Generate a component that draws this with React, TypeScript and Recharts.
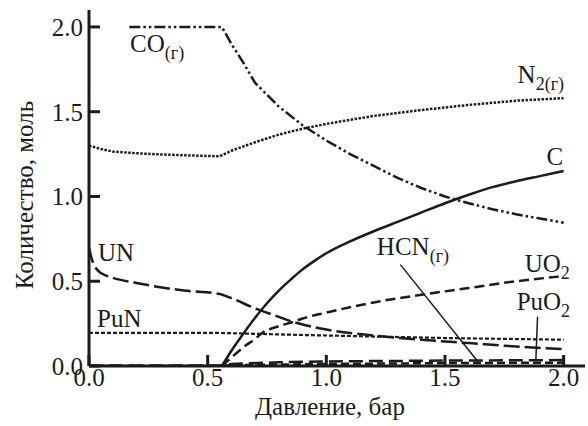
import React from "react";
import { LineChart, Line, XAxis, YAxis, ReferenceLine, ReferenceDot, Label } from "recharts";

// pressure (bar) and amount (mol)
const coX = [0.17, 0.56, 0.6, 0.65, 0.7, 0.8, 0.9, 1.0, 1.1, 1.2, 1.3, 1.4, 1.5, 1.6, 1.7, 1.8, 1.9, 2.0];
const coY = [2.0, 2.0, 1.9, 1.79, 1.67, 1.53, 1.42, 1.33, 1.25, 1.18, 1.11, 1.05, 1.0, 0.96, 0.925, 0.895, 0.87, 0.845];

const n2X = [0, 0.05, 0.1, 0.2, 0.3, 0.4, 0.55, 0.6, 0.7, 0.8, 0.9, 1.0, 1.1, 1.2, 1.4, 1.6, 1.8, 2.0];
const n2Y = [1.3, 1.28, 1.265, 1.255, 1.248, 1.243, 1.237, 1.27, 1.32, 1.365, 1.4, 1.428, 1.452, 1.475, 1.51, 1.54, 1.565, 1.58];

const cX = [0.56, 0.6, 0.65, 0.7, 0.75, 0.8, 0.85, 0.9, 0.95, 1.0, 1.1, 1.2, 1.3, 1.4, 1.5, 1.6, 1.7, 1.8, 1.9, 2.0];
const cY = [0, 0.09, 0.19, 0.285, 0.37, 0.445, 0.51, 0.57, 0.62, 0.665, 0.735, 0.795, 0.85, 0.905, 0.96, 1.01, 1.055, 1.09, 1.12, 1.15];

const unX = [0, 0.01, 0.02, 0.04, 0.07, 0.1, 0.2, 0.3, 0.4, 0.55, 0.6, 0.7, 0.8, 0.86, 0.9, 1.0, 1.2, 1.4, 1.6, 1.8, 2.0];
const unY = [0.7, 0.64, 0.6, 0.56, 0.535, 0.52, 0.49, 0.465, 0.445, 0.425, 0.4, 0.34, 0.29, 0.26, 0.245, 0.215, 0.18, 0.155, 0.135, 0.115, 0.1];

const punX = [0, 0.55, 0.7, 0.9, 1.0, 1.5, 2.0];
const punY = [0.195, 0.195, 0.19, 0.183, 0.18, 0.165, 0.155];

const uo2X = [0.56, 0.6, 0.65, 0.7, 0.73, 0.8, 0.86, 0.9, 1.0, 1.2, 1.4, 1.6, 1.8, 2.0];
const uo2Y = [0, 0.05, 0.11, 0.16, 0.195, 0.235, 0.26, 0.28, 0.315, 0.375, 0.42, 0.46, 0.5, 0.53];

const puo2X = [0, 0.55, 0.6, 0.8, 1.0, 1.5, 2.0];
const puo2Y = [0.003, 0.003, 0.012, 0.022, 0.027, 0.032, 0.035];

const hcnX = [0, 0.55, 0.6, 1.0, 1.5, 2.0];
const hcnY = [0, 0, 0.005, 0.012, 0.017, 0.02];

const xTicks = [0, 0.5, 1.0, 1.5, 2.0];
const yTicks = [0, 0.5, 1.0, 1.5, 2.0];

const toRows = (xs: number[], ys: number[]) => xs.map((x, i) => ({ x, v: ys[i] }));

const INK = "#1b1b1b";
const FONT = "Liberation Serif, Times New Roman, DejaVu Serif, serif";
const txt = { fontFamily: FONT };

const LeftTick = (props: any) => {
  const { x, y, payload } = props;
  const ax = x + 6;
  return (
    <g>
      <line x1={ax} x2={ax + 11} y1={y} y2={y} stroke={INK} strokeWidth={3} />
      <text x={x} y={y} dy={9} textAnchor="end" style={txt} fontSize={25} fill={INK}>
        {payload.value.toFixed(1)}
      </text>
    </g>
  );
};

const BottomTick = (props: any) => {
  const { x, y, payload } = props;
  const ay = y - 2;
  return (
    <g>
      <line x1={x} x2={x} y1={ay} y2={ay - 11} stroke={INK} strokeWidth={3} />
      <text x={x} y={y} dy={18} textAnchor="middle" style={txt} fontSize={25} fill={INK}>
        {payload.value.toFixed(1)}
      </text>
    </g>
  );
};

// curve captions: main text + subscript
const captions = [
  { main: "CO", sub: "(г)", x: 0.173, y: 1.853 },
  { main: "N", sub: "2(г)", x: 1.806, y: 1.671 },
  { main: "C", sub: "", x: 1.928, y: 1.187 },
  { main: "UN", sub: "", x: 0.038, y: 0.62 },
  { main: "PuN", sub: "", x: 0.034, y: 0.23 },
  { main: "HCN", sub: "(г)", x: 1.213, y: 0.655 },
  { main: "UO", sub: "2", x: 1.836, y: 0.555 },
  { main: "PuO", sub: "2", x: 1.802, y: 0.33 },
];

const Caption = ({ main, sub }: { main: string; sub: string }) => (props: any) => (
  <text x={props.cx} y={props.cy} style={txt} fontSize={25} fill={INK}>
    {main}
    {sub && (
      <tspan dy={7} fontSize={18}>
        {sub}
      </tspan>
    )}
  </text>
);

export default function App() {
  return (
    <div style={{ position: "absolute", left: 0, top: 0, background: "#fff", fontFamily: FONT }}>
      <LineChart width={588} height={426} margin={{ top: 10, right: 3, left: 0, bottom: 30 }}>
        <XAxis
          type="number"
          dataKey="x"
          domain={[0, 2.09]}
          ticks={xTicks}
          allowDataOverflow
          tickSize={0}
          tickMargin={2}
          tick={<BottomTick />}
          height={30}
          axisLine={{ stroke: INK, strokeWidth: 3 }}
          tickLine={false}
        >
          <Label
            content={(p: any) => (
              <text
                x={p.viewBox.x + p.viewBox.width / 2 - 7}
                y={p.viewBox.y + 49}
                textAnchor="middle"
                style={txt}
                fontSize={25}
                fill={INK}
              >
                Давление, бар
              </text>
            )}
          />
        </XAxis>
        <YAxis
          type="number"
          domain={[0, 2.1]}
          ticks={yTicks}
          allowDataOverflow
          width={89}
          tickSize={0}
          tickMargin={6}
          tick={<LeftTick />}
          axisLine={{ stroke: INK, strokeWidth: 3 }}
          tickLine={false}
        >
          <Label
            content={(p: any) => {
              const cx = 33;
              const cy = p.viewBox.y + p.viewBox.height / 2 + 7;
              return (
                <text
                  x={cx}
                  y={cy}
                  transform={`rotate(-90, ${cx}, ${cy})`}
                  textAnchor="middle"
                  style={txt}
                  fontSize={25}
                  fill={INK}
                >
                  Количество, моль
                </text>
              );
            }}
          />
        </YAxis>

        <Line data={toRows(n2X, n2Y)} dataKey="v" type="linear" stroke={INK} strokeWidth={2.5} strokeDasharray="2.5 1.5" dot={false} isAnimationActive={false} />
        <Line data={toRows(coX, coY)} dataKey="v" type="linear" stroke={INK} strokeWidth={2.5} strokeDasharray="11 3 2.5 3 2.5 3" dot={false} isAnimationActive={false} />
        <Line data={toRows(cX, cY)} dataKey="v" type="monotone" stroke={INK} strokeWidth={2.5} dot={false} isAnimationActive={false} />
        <Line data={toRows(unX, unY)} dataKey="v" type="monotone" stroke={INK} strokeWidth={2.5} strokeDasharray="16 5" dot={false} isAnimationActive={false} />
        <Line data={toRows(punX, punY)} dataKey="v" type="linear" stroke={INK} strokeWidth={2.2} strokeDasharray="4 2" dot={false} isAnimationActive={false} />
        <Line data={toRows(uo2X, uo2Y)} dataKey="v" type="monotone" stroke={INK} strokeWidth={2.5} strokeDasharray="10 5" dot={false} isAnimationActive={false} />
        <Line data={toRows(hcnX, hcnY)} dataKey="v" type="linear" stroke={INK} strokeWidth={2.5} strokeDasharray="8 4" dot={false} isAnimationActive={false} />
        <Line data={toRows(puo2X, puo2Y)} dataKey="v" type="linear" stroke={INK} strokeWidth={2.5} strokeDasharray="14 6" dot={false} isAnimationActive={false} />

        <ReferenceLine segment={[{ x: 1.312, y: 0.598 }, { x: 1.64, y: 0.024 }]} stroke={INK} strokeWidth={1.5} />
        <ReferenceLine segment={[{ x: 1.89, y: 0.29 }, { x: 1.883, y: 0.035 }]} stroke={INK} strokeWidth={1.5} />

        {captions.map((c) => (
          <ReferenceDot key={c.main} x={c.x} y={c.y} r={0} shape={Caption(c)} />
        ))}
      </LineChart>
    </div>
  );
}
